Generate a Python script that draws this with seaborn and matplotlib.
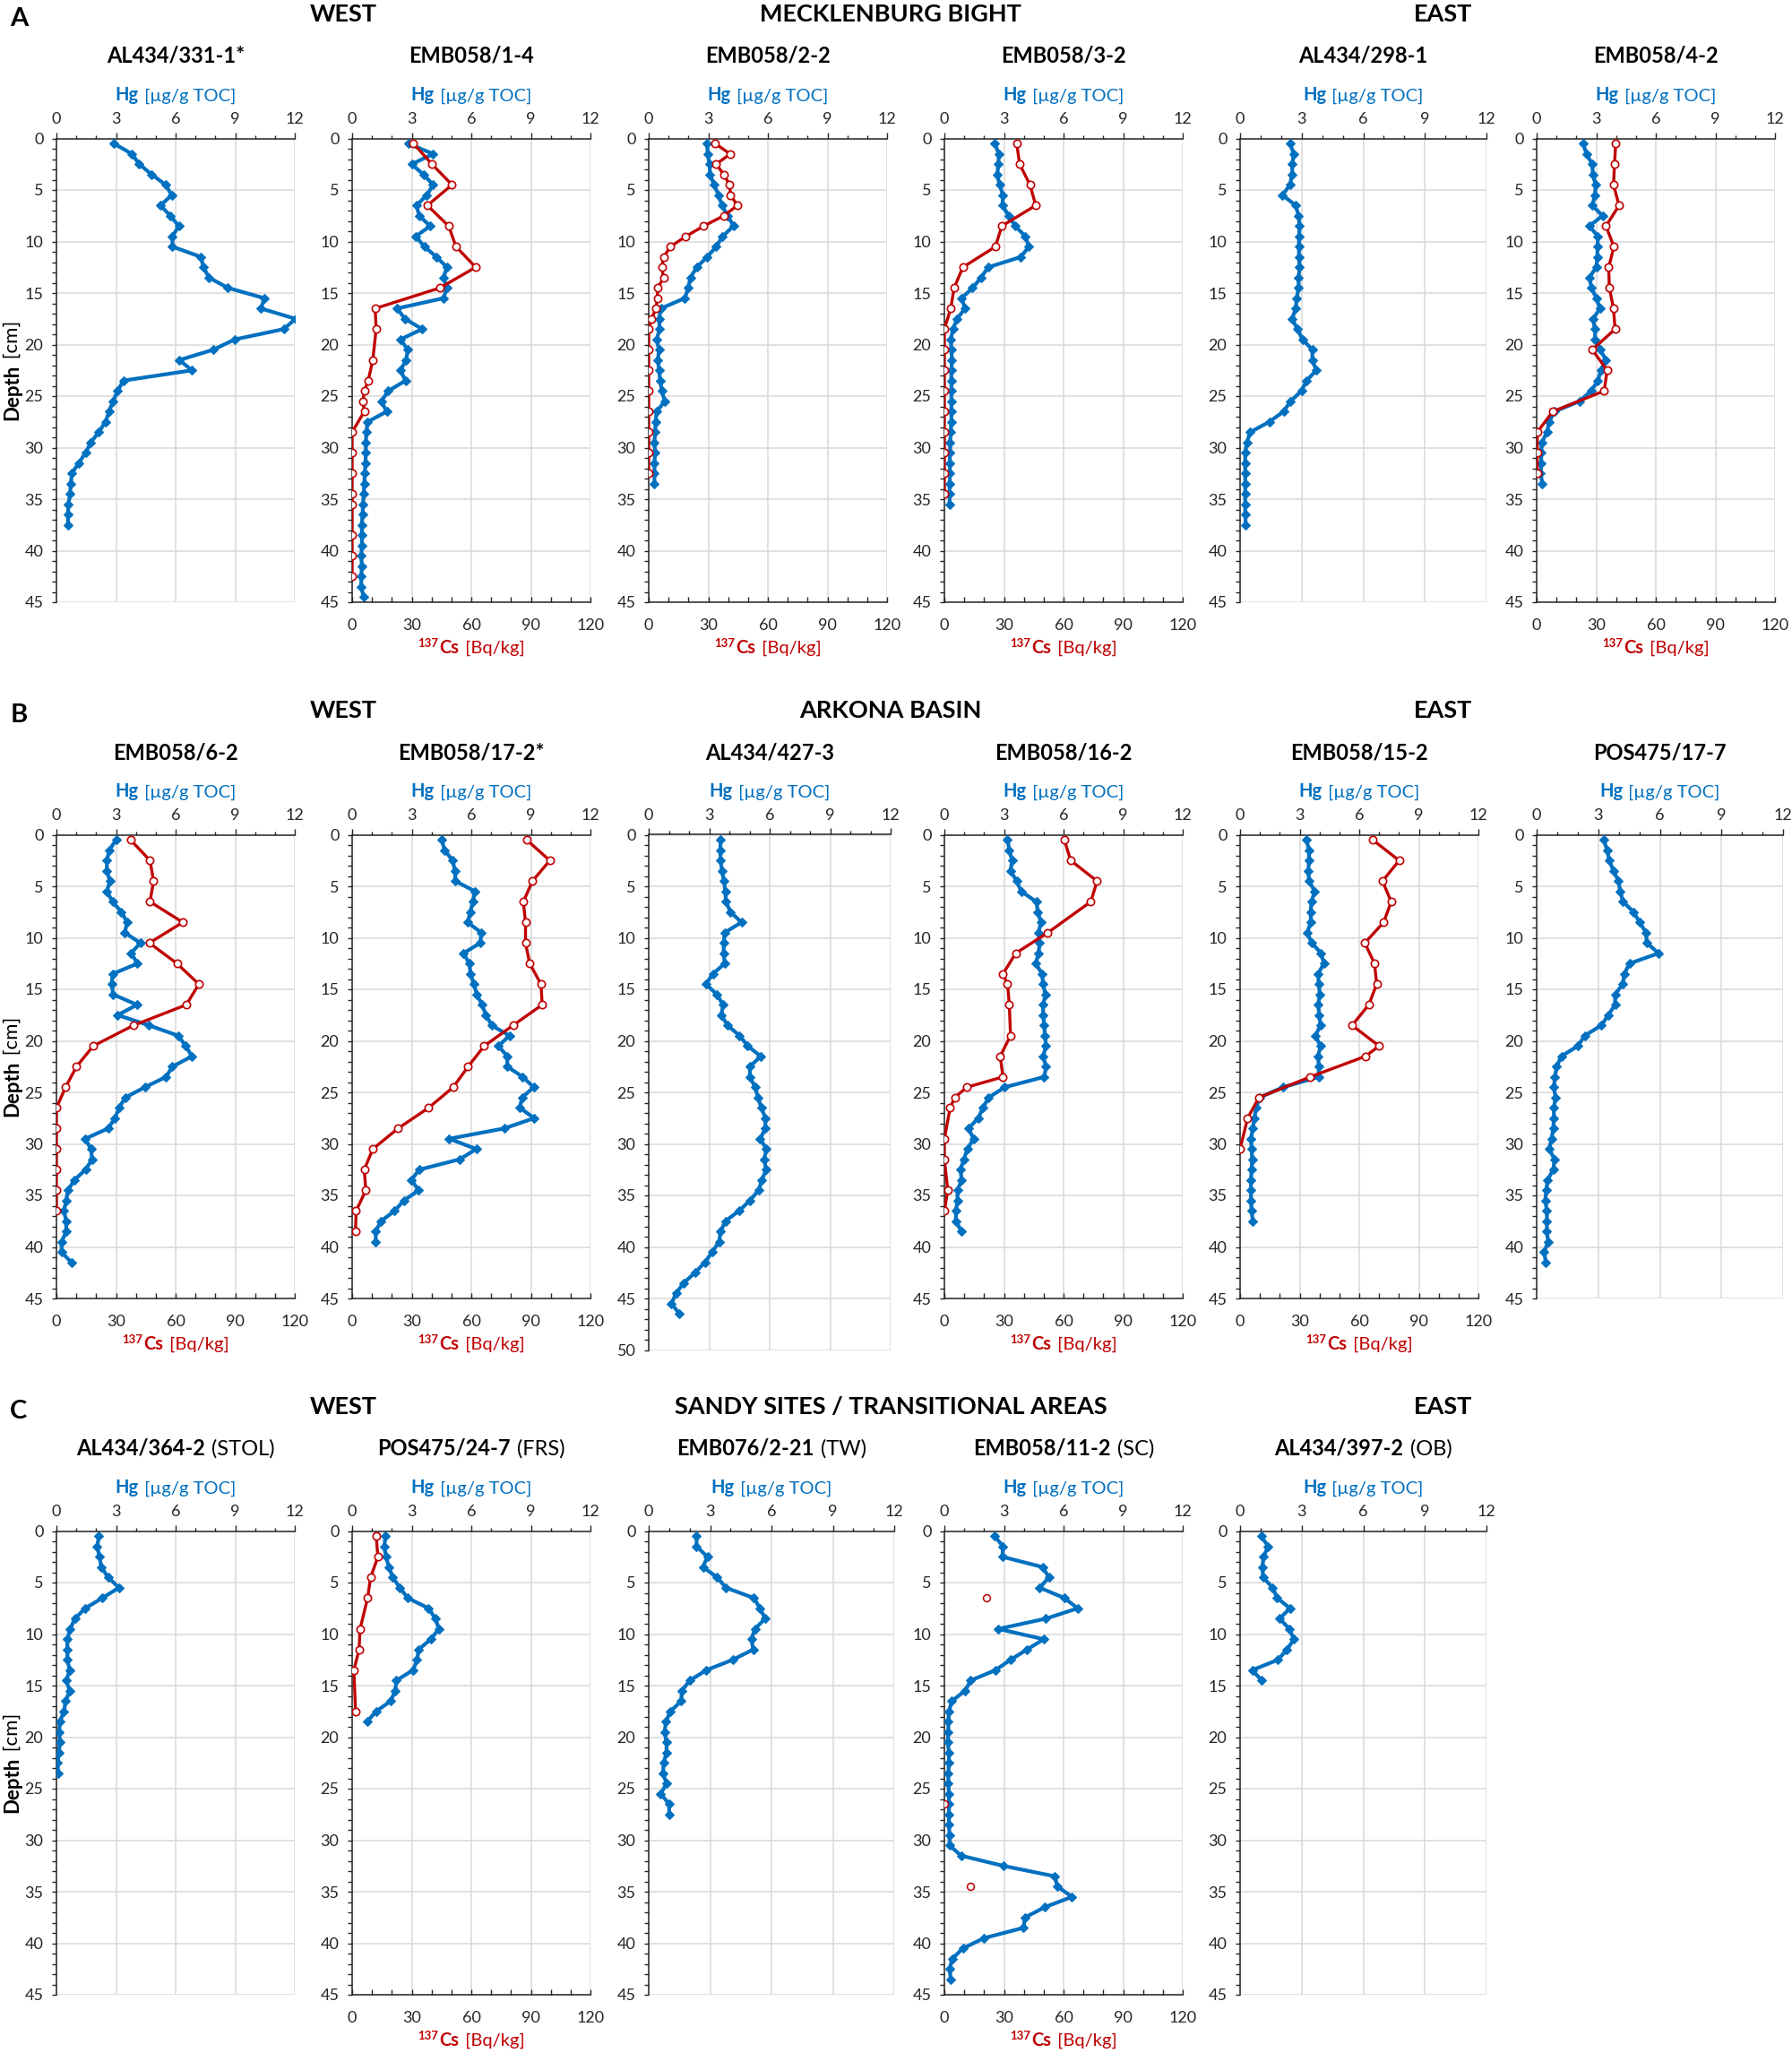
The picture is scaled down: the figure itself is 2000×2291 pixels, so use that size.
import numpy as np
import pandas as pd
import matplotlib
matplotlib.use("Agg")
import matplotlib.pyplot as plt
import matplotlib.transforms as mtransforms
from matplotlib.ticker import MultipleLocator
import seaborn as sns

sns.set_style("white")
plt.rcParams['font.family'] = ['Lato', 'DejaVu Sans']

# ------------------------------------------------------------------ data
# sample mid-depths [cm]
DEPTHS = [0.5, 1.5, 2.5, 3.5, 4.5, 5.5, 6.5, 7.5, 8.5, 9.5, 10.5, 11.5, 12.5,
          13.5, 14.5, 15.5, 16.5, 17.5, 18.5, 19.5, 20.5, 21.5, 22.5, 23.5,
          24.5, 25.5, 26.5, 27.5, 28.5, 29.5, 30.5, 31.5, 32.5, 33.5, 34.5,
          35.5, 36.5, 37.5, 38.5, 39.5, 40.5, 41.5, 42.5, 43.5, 44.5, 45.5, 46.5]

# ---- Row A: Mecklenburg Bight
A1_hg = [2.9, 3.8, 4.17, 4.8, 5.5, 5.8, 5.24, 5.73, 6.16, 5.84, 5.84, 7.28, 7.4, 7.68,
         8.63, 10.47, 10.3, 12.03, 11.45, 8.98, 7.9, 6.19, 6.82, 3.37, 3.08, 2.85, 2.65,
         2.47, 2.13, 1.73, 1.47, 1.12, 0.78, 0.72, 0.69, 0.6, 0.58, 0.58]

A2_hg = [2.83, 4.08, 3.0, 3.59, 4.08, 3.76, 3.24, 3.38, 3.93, 3.2, 3.64, 4.25, 4.77, 4.6,
         4.77, 4.6, 2.26, 2.66, 3.53, 2.43, 2.8, 2.72, 2.43, 2.69, 1.82, 1.47, 1.74, 0.78,
         0.72, 0.69, 0.69, 0.67, 0.64, 0.61, 0.58, 0.55, 0.52, 0.49, 0.49, 0.49, 0.46,
         0.49, 0.46, 0.46, 0.58]
A2_cs_depth = [0.5, 2.5, 4.5, 6.5, 8.5, 10.5, 12.5, 14.5, 16.5, 18.5, 21.5, 23.5, 24.5,
               25.5, 26.5, 28.5, 30.5, 32.5, 34.5, 35.5, 38.5, 40.5, 42.5]
A2_cs = [30.9, 40.2, 50.3, 37.9, 48.6, 52.3, 62.2, 44.2, 11.6, 12.1, 10.4, 8.1, 6.1,
         5.5, 6.1, 0, 0, 0, 0, 0, 0, 0, 0]

A3_hg = [2.94, 2.97, 3.06, 3.09, 3.29, 3.52, 3.69, 3.98, 4.27, 3.72, 3.4, 2.94, 2.42,
         2.1, 1.99, 1.82, 0.61, 0.52, 0.55, 0.4, 0.52, 0.46, 0.52, 0.58, 0.66, 0.81, 0.4,
         0.35, 0.32, 0.29, 0.32, 0.29, 0.29, 0.29]
A3_cs_depth = [0.5, 1.5, 2.5, 3.5, 4.5, 5.5, 6.5, 7.5, 8.5, 9.5, 10.5, 11.5, 12.5, 13.5,
               14.5, 15.5, 16.5, 17.5, 18.5, 20.5, 22.5, 24.5, 26.5, 28.5, 30.5, 32.5]
A3_cs = [33.5, 41, 34, 37.8, 40.7, 41.2, 44.7, 37.8, 27.7, 18.7, 11, 7.5, 6.6, 7.5, 4.6,
         4.3, 3.7, 1.4, 0, 0, 0, 0, 0, 0, 0, 0]

A4_hg = [2.54, 2.74, 2.72, 2.66, 2.78, 2.95, 2.92, 3.24, 3.56, 4.08, 4.25, 3.85, 2.2,
         1.85, 1.42, 0.87, 1.04, 0.64, 0.43, 0.32, 0.35, 0.38, 0.35, 0.35, 0.35, 0.35,
         0.35, 0.35, 0.32, 0.29, 0.29, 0.26, 0.29, 0.26, 0.26, 0.26]
A4_cs_depth = [0.5, 2.5, 4.5, 6.5, 8.5, 10.5, 12.5, 14.5, 16.5, 18.5, 20.5, 22.5, 24.5,
               26.5, 28.5, 30.5, 32.5, 34.5]
A4_cs = [36.4, 37.9, 43.1, 46, 28.9, 25.7, 9.3, 4.9, 3.2, 0, 0, 0, 0, 0, 0, 0, 0, 0]

A5_hg = [2.43, 2.62, 2.54, 2.54, 2.43, 2.07, 2.71, 2.85, 2.9, 2.87, 2.87, 2.87, 2.9,
         2.85, 2.85, 2.76, 2.71, 2.54, 2.79, 3.04, 3.52, 3.52, 3.71, 3.24, 2.99, 2.46,
         2.12, 1.42, 0.5, 0.33, 0.25, 0.25, 0.25, 0.25, 0.25, 0.25, 0.25, 0.28]

A6_hg = [2.34, 2.51, 2.8, 2.83, 2.97, 2.94, 2.8, 3.32, 2.65, 3.09, 3.06, 3.06, 3.0,
         2.65, 2.77, 3.0, 3.2, 2.83, 2.94, 2.94, 3.2, 3.49, 3.23, 3.09, 2.74, 2.16, 0.89,
         0.63, 0.52, 0.26, 0.23, 0.23, 0.2, 0.29]
A6_cs_depth = [0.5, 2.5, 4.5, 6.5, 8.5, 10.5, 12.5, 14.5, 16.5, 18.5, 20.5, 22.5, 24.5,
               26.5, 28.5, 30.5, 32.5]
A6_cs = [39.8, 39.2, 38.7, 41.5, 34.9, 38.9, 36.3, 36.6, 38.7, 39.5, 28, 35.5, 34, 8.1,
         0.3, 0.3, 0.3]

# ---- Row B: Arkona Basin
B1_hg = [3.0, 2.66, 2.54, 2.54, 2.69, 2.54, 2.83, 3.27, 3.56, 3.44, 4.22, 3.76, 4.08,
         2.83, 2.78, 2.86, 4.05, 3.09, 4.66, 6.13, 6.51, 6.82, 5.84, 5.52, 4.45, 3.47,
         3.15, 2.95, 2.6, 1.45, 1.74, 1.79, 1.47, 0.9, 0.58, 0.49, 0.38, 0.49, 0.49, 0.26,
         0.26, 0.75]
B1_cs_depth = [0.5, 2.5, 4.5, 6.5, 8.5, 10.5, 12.5, 14.5, 16.5, 18.5, 20.5, 22.5, 24.5,
               26.5, 28.5, 30.5, 32.5, 34.5, 36.5]
B1_cs = [37.3, 47.1, 48.9, 47.1, 63.6, 46.8, 60.7, 71.7, 65.4, 38.8, 18.5, 10.1, 4.6,
         0, 0, 0, 0, 0, 0]

B2_hg = [4.51, 4.66, 5.06, 5.18, 5.2, 6.19, 6.07, 5.96, 5.81, 6.51, 6.45, 5.61, 5.9,
         5.96, 6.13, 6.28, 6.54, 6.74, 7.03, 7.92, 7.37, 7.81, 7.81, 8.59, 9.14, 8.56,
         8.44, 9.17, 7.66, 4.89, 6.25, 5.41, 3.38, 2.98, 3.35, 2.6, 2.14, 1.45, 1.19, 1.19]
B2_cs_depth = [0.5, 2.5, 4.5, 6.5, 8.5, 10.5, 12.5, 14.5, 16.5, 18.5, 20.5, 22.5, 24.5,
               26.5, 28.5, 30.5, 32.5, 34.5, 36.5, 38.5]
B2_cs = [87.9, 99.5, 90.8, 86.2, 87.3, 87.3, 89.4, 95.1, 95.7, 81, 66.5, 58.4, 50.9,
         38.5, 23.1, 10.4, 6.1, 6.9, 2, 1.7]

B3_hg = [3.57, 3.55, 3.57, 3.63, 3.74, 3.8, 3.83, 4.06, 4.6, 3.77, 3.72, 3.72, 3.77,
         3.18, 2.84, 3.38, 3.69, 3.6, 3.91, 4.51, 4.91, 5.56, 5.02, 5.02, 5.28, 5.42,
         5.59, 5.79, 5.79, 5.53, 5.84, 5.73, 5.82, 5.62, 5.45, 5.02, 4.48, 3.8, 3.57,
         3.49, 3.15, 2.78, 2.3, 1.73, 1.36, 1.13, 1.53]

B4_hg = [3.18, 3.27, 3.41, 3.33, 3.64, 3.87, 4.63, 4.71, 4.86, 4.74, 4.8, 4.74, 4.6,
         4.92, 4.97, 5.09, 4.97, 4.97, 5.03, 5.06, 5.12, 4.97, 5.12, 5.03, 3.04, 2.23,
         1.94, 1.71, 1.21, 1.47, 1.16, 0.98, 0.81, 0.87, 0.66, 0.66, 0.58, 0.58, 0.87]
B4_cs_depth = [0.5, 2.5, 4.5, 6.5, 9.5, 11.5, 13.5, 14.5, 16.5, 19.5, 21.5, 23.5, 24.5,
               25.5, 26.5, 29.5, 31.5, 34.5, 36.5]
B4_cs = [60.4, 63.6, 76.9, 73.7, 52.1, 35.9, 29.5, 31.8, 32.7, 33.3, 28.1, 29.5, 11.3,
         5.2, 2.9, 0, 0, 1.7, 0]

B5_hg = [3.35, 3.47, 3.47, 3.44, 3.47, 3.76, 3.59, 3.56, 3.56, 3.38, 3.61, 4.08, 4.22,
         3.93, 3.96, 4.02, 3.93, 3.99, 4.05, 3.79, 4.05, 3.93, 3.96, 3.96, 2.17, 0.98,
         0.81, 0.72, 0.64, 0.55, 0.58, 0.61, 0.58, 0.55, 0.55, 0.55, 0.58, 0.64]
B5_cs_depth = [0.5, 2.5, 4.5, 6.5, 8.5, 10.5, 12.5, 14.5, 16.5, 18.5, 20.5, 21.5, 23.5,
               25.5, 27.5, 30.5]
B5_cs = [66.8, 80.1, 71.7, 76.1, 72.3, 62.8, 67.7, 68.8, 64.8, 56.4, 70, 63.1, 35.3,
         9.5, 3.8, 0]

B6_hg = [3.27, 3.43, 3.54, 3.74, 3.99, 4.07, 4.21, 4.72, 5.02, 5.33, 5.36, 5.94, 4.52,
         4.27, 4.19, 3.82, 3.82, 3.49, 3.15, 2.34, 2.01, 1.2, 0.98, 0.89, 0.84, 0.92,
         0.84, 0.84, 0.81, 0.73, 0.61, 0.87, 0.81, 0.53, 0.47, 0.42, 0.5, 0.5, 0.5, 0.56,
         0.36, 0.45]

# ---- Row C: sandy sites / transitional areas
C1_hg = [2.14, 2.05, 2.17, 2.26, 2.6, 3.15, 2.31, 1.45, 0.93, 0.69, 0.55, 0.55, 0.55,
         0.67, 0.49, 0.67, 0.46, 0.38, 0.17, 0.14, 0.17, 0.12, 0.06, 0.09]

C2_hg = [1.68, 1.62, 1.71, 1.85, 2.05, 2.4, 2.8, 3.85, 4.19, 4.37, 3.96, 3.35, 3.27,
         3.07, 2.23, 2.17, 1.94, 1.21, 0.75]
C2_cs_depth = [0.5, 2.5, 4.5, 6.5, 9.5, 11.5, 13.5, 17.5]
C2_cs = [12.1, 13, 9.3, 7.8, 4.0, 3.5, 0.9, 1.7]

C3_hg = [2.34, 2.34, 2.87, 2.65, 3.35, 3.77, 5.14, 5.44, 5.69, 5.19, 5.02, 5.11, 4.1,
         2.82, 2.01, 1.62, 1.59, 1.06, 0.84, 0.78, 0.87, 0.87, 0.73, 0.7, 0.87, 0.59,
         1.0, 1.0]

C4_hg = [2.54, 2.95, 2.92, 4.95, 5.26, 4.8, 6.04, 6.71, 5.12, 2.72, 5.0, 4.16, 3.33,
         2.57, 1.33, 1.04, 0.38, 0.23, 0.2, 0.2, 0.17, 0.23, 0.23, 0.2, 0.2, 0.23, 0.23,
         0.23, 0.23, 0.26, 0.26, 0.84, 2.98, 5.55, 5.7, 6.42, 5.06, 4.05, 3.99, 2.0, 0.93,
         0.4, 0.26, 0.32]
C4_cs_depth = [6.5, 26.5, 34.5]
C4_cs = [21.4, 0, 13.3]

C5_hg = [1.03, 1.37, 1.14, 1.09, 1.12, 1.59, 1.81, 2.43, 1.93, 2.4, 2.62, 2.29, 1.84,
         0.59, 1.06]

ROW_LETTERS = ['A', 'B', 'C']
ROW_HEADINGS = [['WEST', 'MECKLENBURG BIGHT', 'EAST'],
                ['WEST', 'ARKONA BASIN', 'EAST'],
                ['WEST', 'SANDY SITES / TRANSITIONAL AREAS', 'EAST']]

PANELS = [
    # row, col, title, suffix, hg, cs_depth, cs, cs_style, ymax, width
    (0, 0, 'AL434/331-1*', '', A1_hg, None, None, None, 45, 266),
    (0, 1, 'EMB058/1-4', '', A2_hg, A2_cs_depth, A2_cs, 'line', 45, 266),
    (0, 2, 'EMB058/2-2', '', A3_hg, A3_cs_depth, A3_cs, 'line', 45, 266),
    (0, 3, 'EMB058/3-2', '', A4_hg, A4_cs_depth, A4_cs, 'line', 45, 266),
    (0, 4, 'AL434/298-1', '', A5_hg, None, None, None, 45, 275),
    (0, 5, 'EMB058/4-2', '', A6_hg, A6_cs_depth, A6_cs, 'line', 45, 266),
    (1, 0, 'EMB058/6-2', '', B1_hg, B1_cs_depth, B1_cs, 'line', 45, 266),
    (1, 1, 'EMB058/17-2*', '', B2_hg, B2_cs_depth, B2_cs, 'line', 45, 266),
    (1, 2, 'AL434/427-3', '', B3_hg, None, None, None, 50, 270),
    (1, 3, 'EMB058/16-2', '', B4_hg, B4_cs_depth, B4_cs, 'line', 45, 266),
    (1, 4, 'EMB058/15-2', '', B5_hg, B5_cs_depth, B5_cs, 'line', 45, 266),
    (1, 5, 'POS475/17-7', '', B6_hg, None, None, None, 45, 275),
    (2, 0, 'AL434/364-2', ' (STOL)', C1_hg, None, None, None, 45, 266),
    (2, 1, 'POS475/24-7', ' (FRS)', C2_hg, C2_cs_depth, C2_cs, 'line', 45, 266),
    (2, 2, 'EMB076/2-21', ' (TW)', C3_hg, None, None, None, 45, 274),
    (2, 3, 'EMB058/11-2', ' (SC)', C4_hg, C4_cs_depth, C4_cs, 'points', 45, 266),
    (2, 4, 'AL434/397-2', ' (OB)', C5_hg, None, None, None, 45, 275),
]

# ------------------------------------------------------------------ layout
W, H = 2000, 2291
DPI = 100
BLUE = '#0070C0'
RED = '#C00000'
GRID = '#D9D9D9'
AXC = '#262626'
ROW_TOP = [154.5, 931.5, 1708.5]
COL_LEFT = [63, 393, 724, 1054, 1384, 1715]
PX_PER_CM = 11.5
HEAD_X = [383, 994, 1611]
TICK_FS = 13

fig = plt.figure(figsize=(W / DPI, H / DPI), dpi=DPI)
renderer = fig.canvas.get_renderer()
IDENT = mtransforms.IdentityTransform()
PT = DPI / 72.0


def rich(xc, yc, parts, rot=0, gap=1.5):
    """parts: (text, size_pt, weight, color, raise_px). xc,yc image px (y down),
    yc is the vertical centre of capital letters of the first part."""
    objs = []
    for s, size, weight, color, rz in parts:
        t = fig.text(0, 0, s, fontsize=size, fontweight=weight, color=color,
                     ha='left', va='baseline', rotation=rot,
                     rotation_mode='anchor', transform=IDENT)
        bb = t.get_window_extent(renderer)
        L = bb.width if rot == 0 else bb.height
        objs.append((t, L, rz))
    total = sum(L for _, L, _ in objs) + gap * (len(objs) - 1)
    cap = 0.72 * parts[0][1] * PT
    if rot == 0:
        base = H - (yc + cap / 2)
        x = xc - total / 2
        for t, L, rz in objs:
            t.set_position((x, base + rz))
            x += L + gap
    else:
        base_x = xc + cap / 2
        y = (H - yc) - total / 2
        for t, L, rz in objs:
            t.set_position((base_x - rz, y))
            y += L + gap


for (row, col, title, suffix, hg, cs_depth, cs, cs_style, ymax, width) in PANELS:
    top = ROW_TOP[row]
    left = COL_LEFT[col]
    h = ymax * PX_PER_CM
    ax = fig.add_axes([left / W, 1 - (top + h) / H, width / W, h / H])
    ax2 = ax.twiny() if cs is not None else None

    sns.lineplot(x=hg, y=DEPTHS[:len(hg)], ax=ax, sort=False, estimator=None,
                 orient='y', color=BLUE, linewidth=3.0, marker='D', markersize=5.6,
                 markerfacecolor=BLUE, markeredgecolor=BLUE, markeredgewidth=0.8,
                 zorder=3)
    ax.set_xlim(0, 12)
    ax.set_ylim(ymax, 0)
    ax.set_xlabel('')
    ax.set_ylabel('')
    ax.xaxis.set_major_locator(MultipleLocator(3))
    ax.xaxis.set_minor_locator(MultipleLocator(1))
    ax.yaxis.set_major_locator(MultipleLocator(5))
    ax.yaxis.set_minor_locator(MultipleLocator(1))
    ax.grid(True, which='major', color=GRID, linewidth=1.1)
    ax.set_axisbelow(True)
    for side in ('right', 'bottom'):
        ax.spines[side].set_visible(False)
    for side in ('left', 'top'):
        ax.spines[side].set_color(AXC)
        ax.spines[side].set_linewidth(1.1)

    if ax2 is not None:
        if cs_style == 'line':
            sns.lineplot(x=cs, y=cs_depth, ax=ax2, sort=False, estimator=None,
                         orient='y', color=RED, linewidth=2.4, marker='o',
                         markersize=6, markerfacecolor='white',
                         markeredgecolor=RED, markeredgewidth=1.2, zorder=4)
        else:
            sns.scatterplot(x=cs, y=cs_depth, ax=ax2, marker='o', s=32,
                            color='white', edgecolor=RED, linewidth=1.1, zorder=4)
        ax2.set_xlim(0, 120)
        ax2.set_ylim(ymax, 0)
        ax2.set_xlabel('')
        ax2.set_ylabel('')
        ax2.xaxis.set_major_locator(MultipleLocator(30))
        ax2.xaxis.set_minor_locator(MultipleLocator(10))
        ax2.xaxis.tick_bottom()
        ax2.tick_params(axis='x', which='both', bottom=True, top=False,
                        labelbottom=True, labeltop=False, direction='in',
                        length=4, width=1.0, color=AXC, labelsize=TICK_FS, pad=13)
        for side in ('right', 'top', 'left'):
            ax2.spines[side].set_visible(False)
        ax2.spines['bottom'].set_visible(True)
        ax2.spines['bottom'].set_color(AXC)
        ax2.spines['bottom'].set_linewidth(1.1)
        cx = left + width / 2
        rich(cx, top + h + 52, [('137', 9.5, 'bold', RED, 6.5),
                                ('Cs', 14.5, 'bold', RED, 0),
                                (' [Bq/kg]', 14.5, 'normal', RED, 0)], gap=1.0)

    # Hg axis on top (set after twiny, which moves ticks of ax to the bottom)
    ax.xaxis.tick_top()
    ax.tick_params(axis='x', which='both', top=True, bottom=False, labeltop=True,
                   labelbottom=False, direction='out', width=1.0, color=AXC,
                   labelsize=TICK_FS, pad=5)
    ax.tick_params(axis='x', which='major', length=5)
    ax.tick_params(axis='x', which='minor', length=3)
    ax.tick_params(axis='y', which='both', left=True, direction='out', length=3.5,
                   width=1.0, color=AXC, labelsize=TICK_FS, pad=7)

    cx = left + width / 2
    rich(cx, top - 49.5, [('Hg', 14.5, 'bold', BLUE, 0),
                          (' [µg/g TOC]', 14.5, 'normal', BLUE, 0)], gap=1.0)
    parts = [(title, 17, 'bold', 'black', 0)]
    if suffix:
        parts.append((suffix, 17, 'normal', 'black', 0))
    rich(cx, top - 93, parts, gap=1.0)

    if col == 0:
        rich(12, top + 45 * PX_PER_CM / 2, [('Depth', 16, 'bold', 'black', 0),
                                            (' [cm]', 16, 'normal', 'black', 0)],
             rot=90, gap=1.0)

for r in range(3):
    top = ROW_TOP[r]
    rich(21, top - 136, [(ROW_LETTERS[r], 21, 'bold', 'black', 0)])
    for hx, txt in zip(HEAD_X, ROW_HEADINGS[r]):
        rich(hx, top - 140, [(txt, 19.5, 'bold', 'black', 0)])

fig.savefig('out.png', dpi=DPI)
